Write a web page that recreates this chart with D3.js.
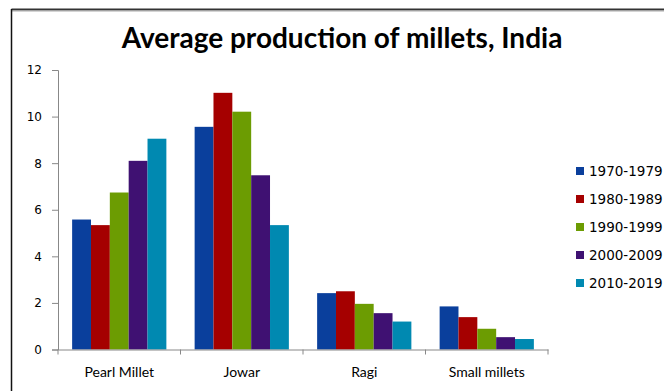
<!DOCTYPE html>
<html>
<head>
<meta charset="utf-8">
<script src="https://cdnjs.cloudflare.com/ajax/libs/d3/7.8.5/d3.min.js"></script>
<style>
  body { margin: 0; background: #fff; }
</style>
</head>
<body>
<div id="chart-area"></div>
<script>
// Data
var categories = ["Pearl Millet", "Jowar", "Ragi", "Small millets"];
var periods = ["1970-1979", "1980-1989", "1990-1999", "2000-2009", "2010-2019"];
var v1970 = [5.58, 9.56, 2.42, 1.85];
var v1980 = [5.34, 11.02, 2.50, 1.39];
var v1990 = [6.74, 10.21, 1.96, 0.89];
var v2000 = [8.10, 7.48, 1.56, 0.53];
var v2010 = [9.05, 5.34, 1.20, 0.45];
var yTicks = [0, 2, 4, 6, 8, 10, 12];
var colors = ["#0a3f9c", "#a50000", "#6c9c02", "#3f1172", "#0089b1"];

var series = [v1970, v1980, v1990, v2000, v2010];

var W = 664, H = 391;
var margin = { left: 58, top: 70, right: 116, bottom: 42 };
var width = 548 - margin.left,
    height = 349.5 - margin.top;

var svg = d3.select("#chart-area")
    .append("svg")
        .attr("width", W)
        .attr("height", H);

// Outer frame (top and left edges visible)
svg.append("line")
    .attr("x1", 11.5).attr("x2", W)
    .attr("y1", 9.5).attr("y2", 9.5)
    .attr("stroke", "#333").attr("stroke-width", 2);
svg.append("line")
    .attr("x1", 11.5).attr("x2", W)
    .attr("y1", 11).attr("y2", 11)
    .attr("stroke", "#aaa").attr("stroke-width", 1);
svg.append("line")
    .attr("x1", 11.5).attr("x2", 11.5)
    .attr("y1", 9).attr("y2", H)
    .attr("stroke", "#111").attr("stroke-width", 1.5);

// Title
svg.append("text")
    .attr("x", 342)
    .attr("y", 48)
    .attr("text-anchor", "middle")
    .attr("font-family", "Lato, 'Open Sans', sans-serif")
    .attr("font-weight", "bold")
    .attr("font-size", "28px")
    .attr("fill", "#000")
    .text("Average production of millets, India");

var g = svg.append("g")
    .attr("transform", "translate(" + margin.left + ", " + margin.top + ")");

// Scales - Excel style: gap width 150% of bar width, bars touch within group
var x0 = d3.scaleBand()
    .domain(categories)
    .range([0, width]);

var x1 = d3.scaleBand()
    .domain(d3.range(periods.length))
    .range([0, x0.bandwidth() * 5 / 6.5]);

var y = d3.scaleLinear()
    .domain([0, 12])
    .range([height, 0]);

// Y axis
var yAxisCall = d3.axisLeft(y)
    .tickValues(yTicks)
    .tickSize(6)
    .tickPadding(10)
    .tickFormat(d3.format("d"));
var yAxisGroup = g.append("g")
    .attr("class", "y axis")
    .call(yAxisCall);
yAxisGroup.select(".domain").attr("stroke", "#888");
yAxisGroup.selectAll(".tick line").attr("stroke", "#888");
yAxisGroup.selectAll("text")
    .attr("font-family", "'DejaVu Sans', Verdana, sans-serif")
    .attr("font-size", "12px")
    .attr("fill", "#000");

// Bars
var groups = g.selectAll(".cat")
    .data(categories)
    .enter()
    .append("g")
        .attr("class", "cat")
        .attr("transform", function(d) {
            return "translate(" + (x0(d) + x0.bandwidth() * 0.75 / 6.5) + ",0)";
        });

groups.selectAll("rect")
    .data(function(d, i) {
        return series.map(function(s, k) { return { k: k, v: s[i] }; });
    })
    .enter()
    .append("rect")
        .attr("x", function(d) { return x1(d.k); })
        .attr("y", function(d) { return y(d.v); })
        .attr("width", x1.bandwidth())
        .attr("height", function(d) { return height - y(d.v); })
        .attr("fill", function(d) { return colors[d.k]; });

// X axis
var xAxisCall = d3.axisBottom(x0)
    .tickSize(0)
    .tickPadding(18);
var xAxisGroup = g.append("g")
    .attr("class", "x axis")
    .attr("transform", "translate(0," + height + ")")
    .call(xAxisCall);
xAxisGroup.select(".domain").attr("stroke", "#888");
xAxisGroup.selectAll("text")
    .attr("font-family", "Lato, 'Open Sans', sans-serif")
    .attr("font-size", "14px")
    .attr("fill", "#000");

// category separator ticks
xAxisGroup.selectAll(".sep")
    .data(d3.range(categories.length + 1))
    .enter()
    .append("line")
        .attr("class", "sep")
        .attr("x1", function(i) { return i * x0.step(); })
        .attr("x2", function(i) { return i * x0.step(); })
        .attr("y1", 0)
        .attr("y2", 5)
        .attr("stroke", "#888");

// Legend
var legend = svg.append("g")
    .attr("transform", "translate(576, 171)");

var items = legend.selectAll(".item")
    .data(periods)
    .enter()
    .append("g")
        .attr("class", "item")
        .attr("transform", function(d, i) { return "translate(0," + (i * 28) + ")"; });

items.append("rect")
    .attr("x", 0)
    .attr("y", -4)
    .attr("width", 8)
    .attr("height", 8)
    .attr("fill", function(d, i) { return colors[i]; });

items.append("text")
    .attr("x", 13)
    .attr("y", 0)
    .attr("dy", "0.36em")
    .attr("font-family", "'DejaVu Sans', Verdana, sans-serif")
    .attr("font-size", "13.5px")
    .attr("fill", "#000")
    .text(function(d) { return d; });
</script>
</body>
</html>
